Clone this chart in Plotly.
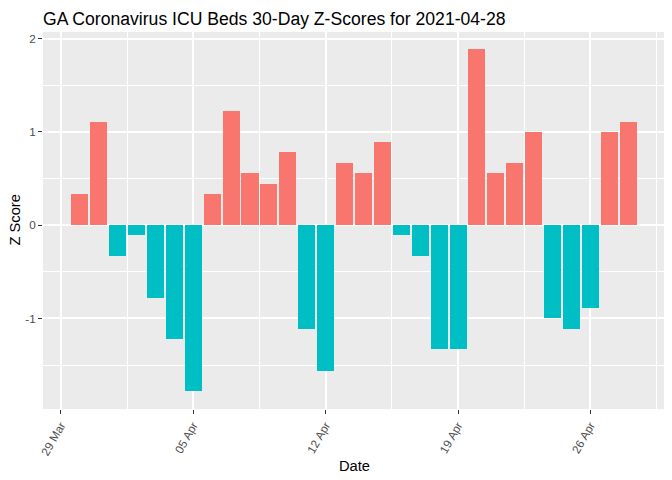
import plotly.graph_objects as go
import pandas as pd

dates = pd.date_range("2021-03-30", "2021-04-28", freq="D")
z_scores = [0.33, 1.11, -0.33, -0.11, -0.78, -1.22, -1.78, 0.33, 1.22, 0.56,
            0.44, 0.78, -1.11, -1.56, 0.67, 0.56, 0.89, -0.11, -0.33, -1.33,
            -1.33, 1.89, 0.56, 0.67, 1.00, -1.00, -1.11, -0.89, 1.00, 1.11]
tick_dates = ["2021-03-29", "2021-04-05", "2021-04-12", "2021-04-19", "2021-04-26"]
tick_labels = ["29 Mar", "05 Apr", "12 Apr", "19 Apr", "26 Apr"]

POS = "#F8766D"
NEG = "#00BFC4"
colors = [POS if v > 0 else NEG for v in z_scores]

DAY = 86400000
W, H = 664, 472
L, R, T, B = 35, 7, 24, 71
PW, PH = W - L - R, H - T - B

fig = go.Figure(go.Bar(
    x=dates, y=z_scores, width=[0.9 * DAY] * len(z_scores),
    marker=dict(color=colors, line=dict(width=0)),
    showlegend=False,
))

fig.update_layout(
    width=W, height=H,
    margin=dict(l=L, r=R, t=T, b=B),
    paper_bgcolor="white", plot_bgcolor="#EBEBEB",
    font=dict(family="Liberation Sans, Arial, sans-serif", color="black"),
    title=dict(text="GA Coronavirus ICU Beds 30-Day Z-Scores for 2021-04-28",
               xref="container", yref="container",
               x=L / W, xanchor="left", y=1 - 10.5 / H, yanchor="middle",
               font=dict(size=17.6, color="black"), automargin=False),
    bargap=0,
    annotations=[
        dict(text="Date", xref="paper", yref="paper", x=0.5, y=-57 / PH,
             xanchor="center", yanchor="middle", showarrow=False,
             font=dict(size=14.7, color="black")),
        dict(text="Z Score", xref="paper", yref="paper", x=-29 / PW, y=0.5,
             xanchor="center", yanchor="middle", showarrow=False, textangle=-90,
             font=dict(size=14.7, color="black")),
    ],
)
fig.update_xaxes(
    automargin=False,
    range=["2021-03-28 01:19", "2021-04-29 22:41"],
    tickmode="array", tickvals=tick_dates, ticktext=tick_labels,
    tickangle=-60, tickfont=dict(size=11.7, color="#4D4D4D"),
    ticks="outside", ticklen=4, tickwidth=1, tickcolor="#333333",
    showgrid=True, gridcolor="white", gridwidth=1.9,
    minor=dict(showgrid=True, gridcolor="white", gridwidth=0.95,
               tick0="2021-04-01 12:00", dtick=7 * DAY, ticks=""),
    zeroline=False, showline=False,
)
fig.update_yaxes(
    automargin=False,
    range=[-1.97, 2.07],
    tickmode="array", tickvals=[-1, 0, 1, 2], ticktext=["-1", "0", "1", "2"],
    tickfont=dict(size=11.7, color="#4D4D4D"),
    ticks="outside", ticklen=4, tickwidth=1, tickcolor="#333333",
    showgrid=True, gridcolor="white", gridwidth=1.9,
    minor=dict(showgrid=True, gridcolor="white", gridwidth=0.95,
               tick0=-1.5, dtick=1, ticks=""),
    zeroline=False, showline=False,
)

fig.write_html("out.html")
